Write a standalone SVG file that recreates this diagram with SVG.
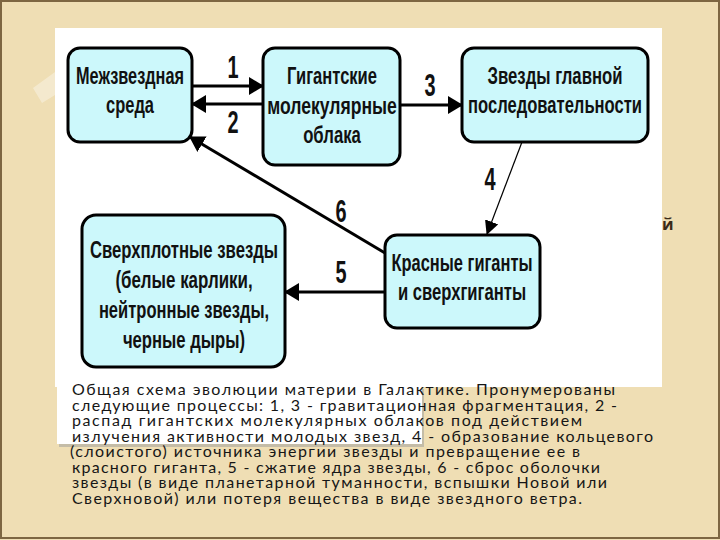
<svg xmlns="http://www.w3.org/2000/svg" width="720" height="540" viewBox="0 0 720 540">
<defs>
<style>
.node rect{fill:#CCF8FB;stroke:#000;stroke-width:3}
.nt{font-family:"Liberation Sans","Arial",sans-serif;font-weight:bold;font-size:23px;fill:#111;text-anchor:middle}
.num{font-family:"Liberation Sans","Arial",sans-serif;font-weight:bold;font-size:31px;fill:#111;text-anchor:middle}
.cap{font-family:"Lato","Open Sans",sans-serif;font-size:16px;fill:#161616}
.thick{stroke:#000;stroke-width:3;fill:none}
.thin{stroke:#000;stroke-width:1.2;fill:none}
</style>
<marker id="ah" markerUnits="userSpaceOnUse" viewBox="0 0 15 18" refX="14" refY="9" markerWidth="15" markerHeight="18" orient="auto">
<path d="M0,0 L15,9 L0,18 Z" fill="#000"/>
</marker>
<marker id="ahs" markerUnits="userSpaceOnUse" viewBox="0 0 14 14" refX="13" refY="7" markerWidth="14" markerHeight="14" orient="auto">
<path d="M0,0 L14,7 L0,14 Z" fill="#000"/>
</marker>
</defs>
<rect x="0" y="0" width="720" height="540" fill="#EFDEB4"/>
<rect x="1" y="1" width="718" height="537" fill="none" stroke="#7d6642" stroke-width="2"/>
<polygon points="33,88 55,72 55,95 42,103" fill="#FFFFFF" fill-opacity="0.35"/>
<text x="662" y="230" style="font-family:'Open Sans','Noto Sans',sans-serif;font-size:16px;font-weight:bold;fill:#3a2a18">й</text>
<rect x="55" y="28" width="607" height="359" fill="#FFFFFF"/>
<rect x="59" y="389" width="365" height="58" fill="#9a9a9a" fill-opacity="0.5"/>
<rect x="57" y="386" width="365" height="58" fill="#FFFFFF"/>

<g id="connectors">
<line class="thick" x1="192" y1="86" x2="263" y2="86" marker-end="url(#ah)"/>
<line class="thick" x1="263" y1="104" x2="192" y2="104" marker-end="url(#ah)"/>
<line class="thick" x1="400" y1="105" x2="462" y2="105" marker-end="url(#ah)"/>
<line class="thin" x1="522" y1="142" x2="487" y2="234" marker-end="url(#ahs)"/>
<line class="thick" x1="385" y1="253" x2="190" y2="137" marker-end="url(#ah)"/>
<line class="thick" x1="385" y1="292" x2="285" y2="292" marker-end="url(#ah)"/>
<text class="num" transform="translate(233,78) scale(0.65,1)" textLength="17" lengthAdjust="spacingAndGlyphs">1</text>
<text class="num" transform="translate(233,133) scale(0.65,1)" textLength="17" lengthAdjust="spacingAndGlyphs">2</text>
<text class="num" transform="translate(430,96) scale(0.65,1)" textLength="17" lengthAdjust="spacingAndGlyphs">3</text>
<text class="num" transform="translate(490,190) scale(0.65,1)" textLength="17" lengthAdjust="spacingAndGlyphs">4</text>
<text class="num" transform="translate(341,222) scale(0.65,1)" textLength="17" lengthAdjust="spacingAndGlyphs">6</text>
<text class="num" transform="translate(341,283) scale(0.65,1)" textLength="17" lengthAdjust="spacingAndGlyphs">5</text>
</g>

<g id="n1" class="node">
<rect x="68" y="48" width="124" height="94" rx="12"/>
<text class="nt" transform="translate(130,84) scale(0.75,1)" textLength="144" lengthAdjust="spacingAndGlyphs">Межзвездная</text>
<text class="nt" transform="translate(130,113) scale(0.75,1)" textLength="64" lengthAdjust="spacingAndGlyphs">среда</text>
</g>
<g id="n2" class="node">
<rect x="263" y="48" width="137" height="117" rx="12"/>
<text class="nt" transform="translate(332,84) scale(0.75,1)" textLength="120" lengthAdjust="spacingAndGlyphs">Гигантские</text>
<text class="nt" transform="translate(332,114) scale(0.75,1)" textLength="173" lengthAdjust="spacingAndGlyphs">молекулярные</text>
<text class="nt" transform="translate(332,143) scale(0.75,1)" textLength="77" lengthAdjust="spacingAndGlyphs">облака</text>
</g>
<g id="n3" class="node">
<rect x="462" y="48" width="186" height="94" rx="12"/>
<text class="nt" transform="translate(555,84) scale(0.75,1)" textLength="180" lengthAdjust="spacingAndGlyphs">Звезды главной</text>
<text class="nt" transform="translate(555,113) scale(0.75,1)" textLength="232" lengthAdjust="spacingAndGlyphs">последовательности</text>
</g>
<g id="n4" class="node">
<rect x="385" y="235" width="155" height="93" rx="12"/>
<text class="nt" transform="translate(462,271) scale(0.75,1)" textLength="188" lengthAdjust="spacingAndGlyphs">Красные гиганты</text>
<text class="nt" transform="translate(462,300) scale(0.75,1)" textLength="171" lengthAdjust="spacingAndGlyphs">и сверхгиганты</text>
</g>
<g id="n5" class="node">
<rect x="82" y="215" width="203" height="152" rx="14"/>
<text class="nt" transform="translate(184,258) scale(0.75,1)" textLength="251" lengthAdjust="spacingAndGlyphs">Сверхплотные звезды</text>
<text class="nt" transform="translate(184,288) scale(0.75,1)" textLength="183" lengthAdjust="spacingAndGlyphs">(белые карлики,</text>
<text class="nt" transform="translate(184,318) scale(0.75,1)" textLength="227" lengthAdjust="spacingAndGlyphs">нейтронные звезды,</text>
<text class="nt" transform="translate(184,348) scale(0.75,1)" textLength="163" lengthAdjust="spacingAndGlyphs">черные дыры)</text>
</g>

<g id="caption">
<text class="cap" x="72" y="395" textLength="543" lengthAdjust="spacing">Общая схема эволюции материи в Галактике. Пронумерованы</text>
<text class="cap" x="72" y="410.5" textLength="545" lengthAdjust="spacing">следующие процессы: 1, 3 - гравитационная фрагментация, 2 -</text>
<text class="cap" x="72" y="426" textLength="510" lengthAdjust="spacing">распад гигантских молекулярных облаков под действием</text>
<text class="cap" x="72" y="441.5" textLength="581" lengthAdjust="spacing">излучения активности молодых звезд, 4 - образование кольцевого</text>
<text class="cap" x="70" y="457" textLength="510" lengthAdjust="spacing">(слоистого) источника энергии звезды и превращение ее в</text>
<text class="cap" x="72" y="472.5" textLength="528" lengthAdjust="spacing">красного гиганта, 5 - сжатие ядра звезды, 6 - сброс оболочки</text>
<text class="cap" x="72" y="488" textLength="535" lengthAdjust="spacing">звезды (в виде планетарной туманности, вспышки Новой или</text>
<text class="cap" x="72" y="503.5" textLength="510" lengthAdjust="spacing">Сверхновой) или потеря вещества в виде звездного ветра.</text>
</g>
</svg>
